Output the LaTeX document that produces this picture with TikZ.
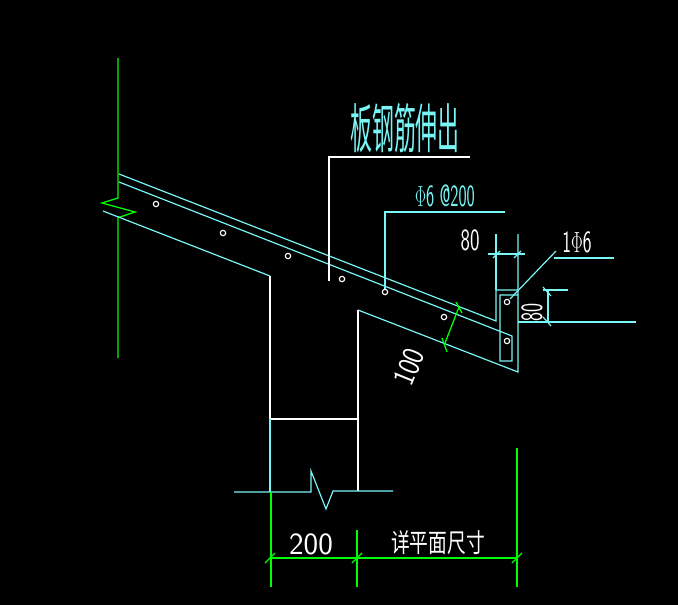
\documentclass[tikz,border=0pt]{standalone}
\usepackage{fontspec}
\newfontfamily\cjk{Noto Sans CJK SC}
\usetikzlibrary{calc}
\definecolor{cadcyan}{RGB}{120,245,245}
\definecolor{cadgreen}{RGB}{0,255,0}
\tikzset{
  cyanline/.style={cadcyan,line width=.85pt},
  whiteline/.style={white,line width=.8pt},
  greenline/.style={cadgreen,line width=.9pt},
  dimtext/.style={white,font=\sffamily\fontsize{22}{24}\selectfont,inner sep=0pt},
  rebar/.style={white,line width=.8pt}
}
\begin{document}
\begin{tikzpicture}[x=0.025cm,y=-0.025cm]
\fill[black] (0,0) rectangle (678,605);
\useasboundingbox (0,0) rectangle (678,605);

% wall
\draw[greenline] (118,58) -- (118,198) -- (102,203) -- (135,212) -- (120,217) -- (118,217) -- (118,358);

% slab
\draw[cyanline] (119,174) -- (496,321) -- (496,290) -- (518,290);
\draw[cyanline] (119,182) -- (512,336) -- (512,361) -- (500,361) -- (500,295) -- (518,295);
\draw[cyanline] (103,211) -- (270,276);
\draw[cyanline] (358,310) -- (518,372) -- (518,234);
\draw[cyanline] (496,290) -- (496,234);

% beam
\draw[whiteline] (270,276) -- (270,419) -- (357,419);
\draw[whiteline] (358,310) -- (358,491);
\draw[cyanline] (270,419) -- (270,492);
\draw[cyanline] (234,492) -- (311,492) -- (311,471) -- (326,509) -- (333,491) -- (393,491);

% bars
\foreach \x/\y in {156/204,223/233,288/256,342/279,385/292,444/317,507/302,507/341}
  {
    \draw[rebar] (\x,\y) circle (2.7);
  }

% leaders
\draw[whiteline] (329,281) -- (329,157) -- (470,157);
\draw[cyanline] (385,289) -- (385,212) -- (505,212);
\draw[cyanline] (510,299) -- (556,251);
\draw[cyanline] (554,258) -- (614,258);

% dim 80 top
\draw[cyanline] (488,254) -- (525,254);
\draw[cyanline] (493,258) -- (500,251);
\draw[cyanline] (514,258) -- (521,251);

% dim 80 right
\draw[cyanline] (518,322) -- (636,322);
\draw[cyanline] (543,290) -- (568,290);
\draw[cyanline] (548,290) -- (548,322);
\draw[cyanline] (543,287) -- (551,296);
\draw[cyanline] (543,317) -- (551,326);

% dim 100
\draw[greenline] (459,307) -- (445,343);
\draw[greenline] (456,302) -- (462,313);
\draw[greenline] (442,338) -- (447,352);

% dim bottom
\draw[greenline] (270,558) -- (517,558);
\draw[greenline] (271,492) -- (271,587);
\draw[greenline] (357,530) -- (357,587);
\draw[greenline] (517,448) -- (517,587);
\foreach \x in {270,357,517}
  {
    \draw[greenline] (\x-5,563) -- (\x+5,553);
  }

\node[cadcyan,font=\cjk\fontsize{38}{40}\selectfont,inner sep=0pt] (title) at (405,128) {\scalebox{.41}[1]{板钢筋伸出}};
\node[dimtext,cadcyan] (spacing) at (445,196) {\scalebox{.56}[1]{$\Phi$6 @200}};
\node[dimtext] (widthtop) at (470,240) {\scalebox{.65}[1]{80}};
\node[dimtext] (barcount) at (577,242) {\scalebox{.6}[1]{1$\Phi$6}};
\node[dimtext,rotate=90] (heightright) at (532,312) {\scalebox{.62}[1]{80}};
\node[dimtext,rotate=68] (depth) at (409,367) {\scalebox{.85}[1]{100}};
\node[dimtext] (widthbottom) at (311,544) {\scalebox{1}[1]{200}};
\node[white,font=\cjk\fontsize{18.5}{20}\selectfont,inner sep=0pt] (planlabel) at (438,543) {\scalebox{.72}[1]{详平面尺寸}};
\end{tikzpicture}
\end{document}
